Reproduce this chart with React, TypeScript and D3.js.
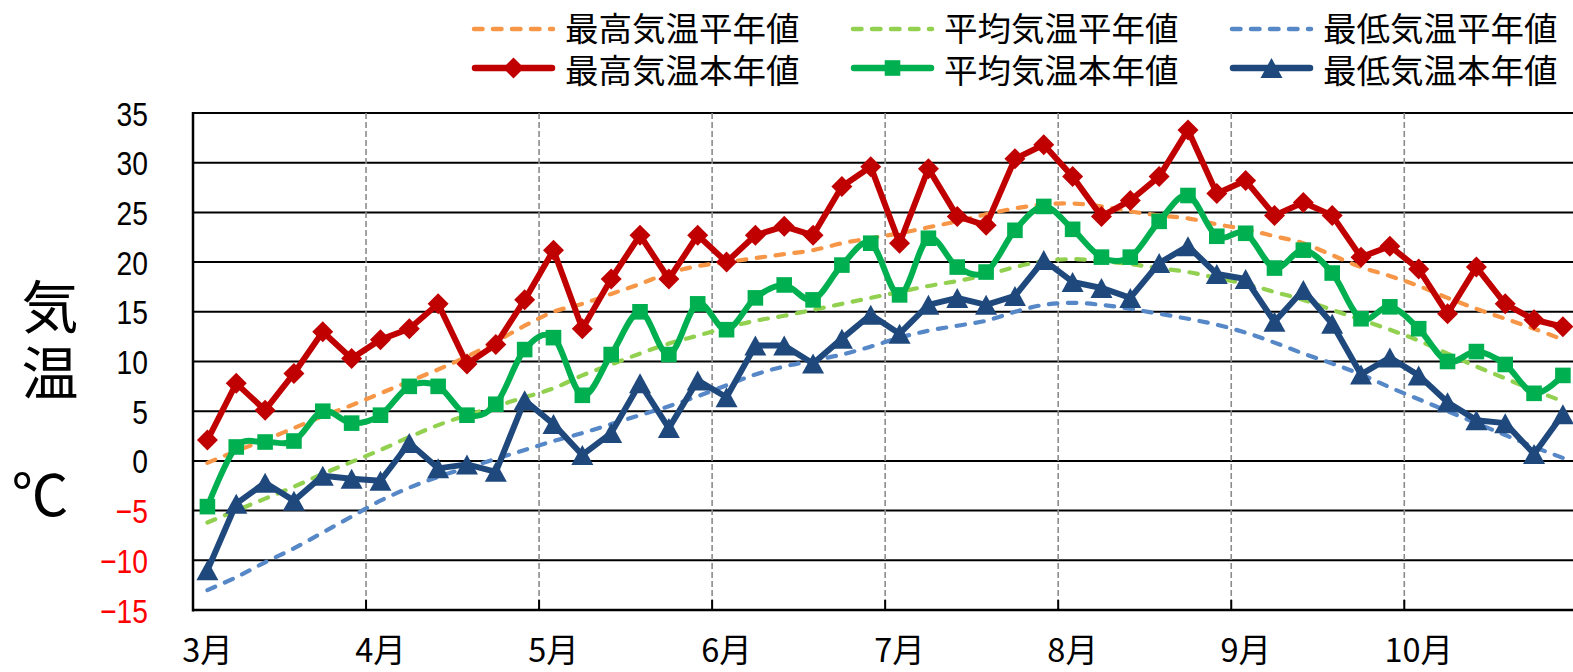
import React from 'react';
import * as d3 from 'd3';

// Months on the category axis; each month is split into six 5-day periods (半旬)
const months = ['3月', '4月', '5月', '6月', '7月', '8月', '9月', '10月'];
const pentadsPerMonth = 6;
const categories = months.flatMap((m) => d3.range(pentadsPerMonth).map((p) => `${m}第${p + 1}半旬`));

// Normals (平年値), °C
const maxNormal = [
  -0.2, 1.0, 2.1, 3.3, 4.5, 5.6, 6.8, 8.0, 9.2, 10.5, 12.0, 13.6,
  15.0, 15.8, 16.8, 17.8, 18.9, 19.6, 20.0, 20.4, 20.8, 21.2, 21.9, 22.4,
  22.9, 23.5, 24.1, 24.8, 25.4, 25.8, 25.9, 25.6, 25.1, 24.7, 24.4, 23.8,
  23.3, 22.6, 21.9, 20.7, 19.5, 18.6, 17.6, 16.4, 15.3, 14.3, 13.3, 12.2,
];
const avgNormal = [
  -6.2, -5.0, -3.8, -2.6, -1.3, -0.1, 1.1, 2.4, 3.6, 4.6, 5.5, 6.4,
  7.3, 8.6, 9.7, 10.8, 11.8, 12.6, 13.4, 14.1, 14.6, 15.2, 15.8, 16.4,
  17.0, 17.6, 18.1, 18.7, 19.5, 20.1, 20.3, 20.1, 19.8, 19.4, 19.0, 18.4,
  17.8, 17.0, 16.2, 15.2, 14.2, 13.2, 12.1, 10.8, 9.5, 8.3, 7.1, 6.0,
];
const minNormal = [
  -13.0, -11.7, -10.2, -8.8, -7.2, -5.6, -4.0, -2.7, -1.6, -0.7, 0.2, 1.1,
  2.0, 2.8, 3.7, 4.6, 5.5, 6.5, 7.6, 8.7, 9.5, 10.1, 10.7, 11.5,
  12.4, 13.1, 13.6, 14.1, 15.0, 15.7, 15.9, 15.7, 15.3, 14.8, 14.3, 13.7,
  12.9, 11.9, 10.8, 9.8, 8.7, 7.4, 6.2, 5.0, 3.8, 2.6, 1.4, 0.3,
];

// This year's values (本年値), °C
const maxActual = [
  2.1, 7.8, 5.1, 8.8, 13.0, 10.3, 12.2, 13.3, 15.8, 9.75, 11.7, 16.2,
  21.2, 13.3, 18.3, 22.7, 18.3, 22.7, 20.0, 22.7, 23.6, 22.7, 27.6, 29.6,
  21.9, 29.4, 24.6, 23.7, 30.4, 31.8, 28.6, 24.6, 26.2, 28.6, 33.3, 26.9,
  28.2, 24.7, 26.0, 24.7, 20.5, 21.6, 19.3, 14.8, 19.5, 15.8, 14.2, 13.5,
];
const avgActual = [
  -4.6, 1.4, 1.9, 2.0, 5.0, 3.8, 4.6, 7.5, 7.5, 4.6, 5.7, 11.2,
  12.4, 6.6, 10.7, 15.0, 10.7, 15.8, 13.2, 16.4, 17.7, 16.2, 19.7, 21.9,
  16.7, 22.4, 19.5, 19.0, 23.2, 25.6, 23.3, 20.5, 20.5, 24.1, 26.7, 22.6,
  22.9, 19.4, 21.2, 18.9, 14.3, 15.5, 13.3, 10.0, 11.0, 9.7, 6.8, 8.6,
];
const minActual = [
  -11.0, -4.3, -2.2, -4.0, -1.5, -1.8, -2.0, 1.8, -0.75, -0.35, -1.1, 6.1,
  3.7, 0.6, 2.8, 7.8, 3.3, 8.1, 6.4, 11.6, 11.6, 9.8, 12.3, 14.7,
  12.8, 15.7, 16.4, 15.7, 16.6, 20.2, 18.0, 17.4, 16.4, 19.9, 21.6, 18.8,
  18.3, 14.0, 17.2, 13.8, 8.7, 10.4, 8.6, 5.9, 4.1, 3.8, 0.7, 4.7,
];

const yTicks = [35, 30, 25, 20, 15, 10, 5, 0, -5, -10, -15];

const legendRow1 = ['最高気温平年値', '平均気温平年値', '最低気温平年値'];
const legendRow2 = ['最高気温本年値', '平均気温本年値', '最低気温本年値'];

const W = 1573;
const H = 672;
const JP = '"Noto Sans CJK JP", "Noto Sans", sans-serif';

type Marker = 'diamond' | 'square' | 'triangle';

const markerPath: Record<Marker, string> = {
  diamond: 'M0,-10.5L10.5,0L0,10.5L-10.5,0Z',
  square: 'M-7.8,-7.8H7.8V7.8H-7.8Z',
  triangle: 'M0,-10L11,10L-11,10Z',
};

const normals = [
  { values: maxNormal, color: '#F79646', label: legendRow1[0] },
  { values: avgNormal, color: '#92D050', label: legendRow1[1] },
  { values: minNormal, color: '#5687C6', label: legendRow1[2] },
];
const actuals: { values: number[]; color: string; label: string; marker: Marker; smooth: boolean }[] = [
  { values: maxActual, color: '#C00000', label: legendRow2[0], marker: 'diamond', smooth: false },
  { values: avgActual, color: '#00B050', label: legendRow2[1], marker: 'square', smooth: true },
  { values: minActual, color: '#1F497D', label: legendRow2[2], marker: 'triangle', smooth: false },
];

export default function App() {
  const left = 193;
  const step = 28.84;
  const x = d3
    .scaleBand<string>()
    .domain(categories)
    .range([left, left + categories.length * step])
    .padding(0);
  const cx = (i: number) => (x(categories[i]) as number) + x.bandwidth() / 2;
  const y = d3.scaleLinear().domain([-15, 35]).range([610, 113]);
  const right = left + categories.length * step;

  const straight = d3
    .line<number>()
    .x((_, i) => cx(i))
    .y((v) => y(v));
  const smooth = d3
    .line<number>()
    .x((_, i) => cx(i))
    .y((v) => y(v))
    .curve(d3.curveCardinal.tension(0));

  const monthStarts = months.map((_, k) => x(categories[k * pentadsPerMonth]) as number);

  const dash = '8.5 10.5';
  const legendCols = [472, 851, 1230];
  const legendLen = 83;

  return (
    <svg
      width={W}
      height={H}
      viewBox={`0 0 ${W} ${H}`}
      style={{ position: 'absolute', left: 0, top: 0, background: '#fff' }}
    >
      <rect x={0} y={0} width={W} height={H} fill="#fff" />

      {/* horizontal gridlines */}
      {yTicks.map((t) => (
        <line key={`h${t}`} x1={left} x2={right} y1={y(t)} y2={y(t)} stroke="#000" strokeWidth={2} />
      ))}
      {/* month separators */}
      {monthStarts.slice(1).map((mx, k) => (
        <g key={`v${k}`}>
          <line x1={mx} x2={mx} y1={y(35)} y2={y(-15)} stroke="#8c8c8c" strokeWidth={1.6} strokeDasharray="6 3" />
          <line x1={mx} x2={mx} y1={y(-15) - 10} y2={y(-15)} stroke="#000" strokeWidth={2} />
        </g>
      ))}
      {/* axes */}
      <line x1={left} x2={left} y1={y(35) - 1} y2={y(-15) + 1.5} stroke="#000" strokeWidth={2.5} />
      <line x1={left} x2={right} y1={y(-15)} y2={y(-15)} stroke="#000" strokeWidth={2.5} />

      {/* y tick labels */}
      {yTicks.map((t) => (
        <text
          key={`yl${t}`}
          transform={`translate(148,${y(t) + 12.5}) scale(0.83,1)`}
          textAnchor="end"
          fontFamily='"Liberation Sans", Arial, sans-serif'
          fontSize={34}
          fill={t < 0 ? '#FF0000' : '#000'}
        >
          {t < 0 ? `−${Math.abs(t)}` : `${t}`}
        </text>
      ))}

      {/* x tick labels */}
      {months.map((m, k) => (
        <text
          key={`xl${m}`}
          x={cx(k * pentadsPerMonth)}
          y={662}
          textAnchor="middle"
          fontFamily={JP}
          fontSize={32.5}
          fill="#000"
        >
          {m}
        </text>
      ))}

      {/* y axis title */}
      <g fontFamily={JP} fontSize={57} fill="#000" textAnchor="middle">
        <text x={50} y={328}>気</text>
        <text x={50} y={394}>温</text>
        <text x={40} y={516}>℃</text>
      </g>

      {/* normals */}
      {normals.map((s) => (
        <path
          key={s.label}
          d={smooth(s.values) as string}
          fill="none"
          stroke={s.color}
          strokeWidth={4.2}
          strokeDasharray={dash}
          strokeLinecap="round"
        />
      ))}

      {/* this year */}
      {actuals.map((s) => (
        <g key={s.label}>
          <path
            d={(s.smooth ? smooth : straight)(s.values) as string}
            fill="none"
            stroke={s.color}
            strokeWidth={6}
            strokeLinejoin="round"
            strokeLinecap="round"
          />
          {s.values.map((v, i) => (
            <path key={i} d={markerPath[s.marker]} transform={`translate(${cx(i)},${y(v)})`} fill={s.color} />
          ))}
        </g>
      ))}

      {/* legend */}
      {normals.map((s, k) => (
        <g key={`ln${k}`}>
          <line
            x1={legendCols[k] + 2}
            x2={legendCols[k] + legendLen - 2}
            y1={29}
            y2={29}
            stroke={s.color}
            strokeWidth={4.5}
            strokeDasharray={dash}
            strokeLinecap="round"
          />
          <text x={legendCols[k] + 93} y={41} fontFamily={JP} fontSize={33.5} fill="#000">
            {s.label}
          </text>
        </g>
      ))}
      {actuals.map((s, k) => (
        <g key={`la${k}`}>
          <line
            x1={legendCols[k] + 3}
            x2={legendCols[k] + legendLen - 3}
            y1={68}
            y2={68}
            stroke={s.color}
            strokeWidth={6.5}
            strokeLinecap="round"
          />
          <path
            d={markerPath[s.marker]}
            transform={`translate(${legendCols[k] + legendLen / 2},68)`}
            fill={s.color}
          />
          <text x={legendCols[k] + 93} y={83} fontFamily={JP} fontSize={33.5} fill="#000">
            {s.label}
          </text>
        </g>
      ))}
    </svg>
  );
}
